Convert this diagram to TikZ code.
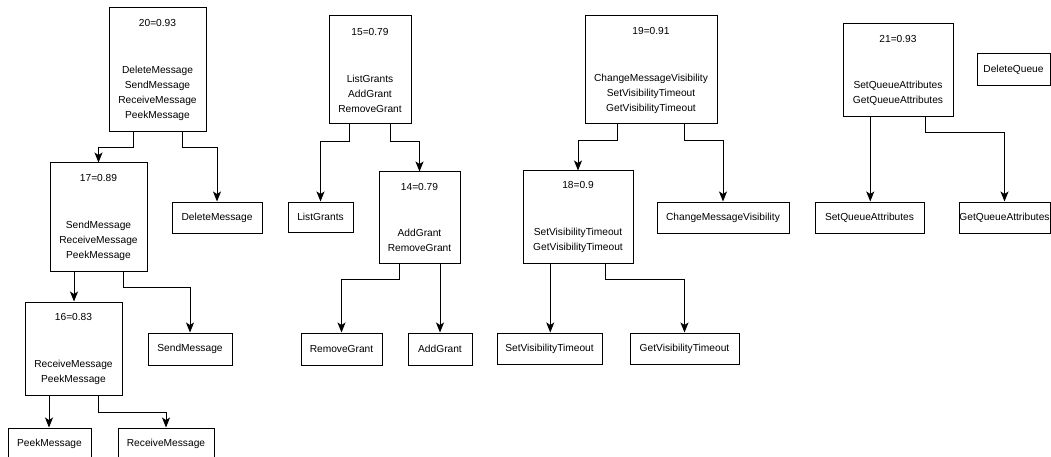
\documentclass[tikz,border=0pt]{standalone}
\usepackage{fontspec}
\setmainfont{Liberation Sans}
\usetikzlibrary{arrows.meta,calc}

\tikzset{
  tbox/.style={draw=black, line width=1pt, rectangle, inner sep=0pt,
    align=center, font=\fontsize{10.2}{15}\selectfont},
  arr/.style={draw=black, line width=1pt,
    -{Stealth[length=10pt,width=8pt,inset=2.5pt]}},
}

\begin{document}
\begin{tikzpicture}[x=1pt,y=-1pt]
\useasboundingbox (0,0) rectangle (1051,457);
\fill[white] (0,0) rectangle (1051,457);

% ---- message operations ----
\node[tbox, minimum width=97pt, minimum height=124pt] (n20) at (157.5,70)
  {20=0.93\\[32pt]DeleteMessage\\SendMessage\\ReceiveMessage\\PeekMessage};
\node[tbox, minimum width=97pt, minimum height=108pt] (n17) at (98.5,217)
  {17=0.89\\[32pt]SendMessage\\ReceiveMessage\\PeekMessage};
\node[tbox, minimum width=97pt, minimum height=93pt] (n16) at (73.5,348.5)
  {16=0.83\\[32pt]ReceiveMessage\\PeekMessage};
\node[tbox, minimum width=90pt, minimum height=31pt] (ldel) at (217,217.5) {DeleteMessage};
\node[tbox, minimum width=84pt, minimum height=32pt] (lsend) at (190,349) {SendMessage};
\node[tbox, minimum width=83pt, minimum height=31pt] (lpeek) at (49.5,443.5) {PeekMessage};
\node[tbox, minimum width=96pt, minimum height=31pt] (lrecv) at (166,443.5) {ReceiveMessage};

% ---- grant operations ----
\node[tbox, minimum width=82pt, minimum height=108pt] (n15) at (370,70)
  {15=0.79\\[32pt]ListGrants\\AddGrant\\RemoveGrant};
\node[tbox, minimum width=81pt, minimum height=91pt] (n14) at (419.5,217.5)
  {14=0.79\\[31pt]AddGrant\\RemoveGrant};
\node[tbox, minimum width=65pt, minimum height=30pt] (llist) at (320.5,217) {ListGrants};
\node[tbox, minimum width=81pt, minimum height=32pt] (lremove) at (341.5,349) {RemoveGrant};
\node[tbox, minimum width=64pt, minimum height=32pt] (ladd) at (440,349) {AddGrant};

% ---- visibility operations ----
\node[tbox, minimum width=132pt, minimum height=108pt] (n19) at (651,70)
  {19=0.91\\[32pt]ChangeMessageVisibility\\SetVisibilityTimeout\\GetVisibilityTimeout};
\node[tbox, minimum width=110pt, minimum height=92pt] (n18) at (578,217)
  {18=0.9\\[32pt]SetVisibilityTimeout\\GetVisibilityTimeout};
\node[tbox, minimum width=132pt, minimum height=31pt] (lcmv) at (723,217.5) {ChangeMessageVisibility};
\node[tbox, minimum width=105pt, minimum height=31pt] (lsvt) at (549.5,348.5) {SetVisibilityTimeout};
\node[tbox, minimum width=109pt, minimum height=31pt] (lgvt) at (684.5,348.5) {GetVisibilityTimeout};

% ---- queue attribute operations ----
\node[tbox, minimum width=110pt, minimum height=93pt] (n21) at (898,70.5)
  {21=0.93\\[31pt]SetQueueAttributes\\GetQueueAttributes};
\node[tbox, minimum width=109pt, minimum height=31pt] (lsqa) at (869.5,217.5) {SetQueueAttributes};
\node[tbox, minimum width=91pt, minimum height=31pt] (lgqa) at (1004.5,217.5) {GetQueueAttributes};
\node[tbox, minimum width=73pt, minimum height=32pt] (ldq) at (1013.5,70) {DeleteQueue};

% exit points on the bottom edge of each cluster box (quarter and three quarters)
\foreach \n in {n20,n17,n16,n15,n14,n19,n18,n21} {
  \coordinate (\n a) at ($(\n.south west)!0.25!(\n.south east)$);
  \coordinate (\n b) at ($(\n.south west)!0.75!(\n.south east)$);
}

% connectors
\draw[arr] (n20a) -- ++(0,15) -| (n17.north);
\draw[arr] (n20b) -- ++(0,15) -| (ldel.north);
\draw[arr] (n17a) -- (n17a |- n16.north);
\draw[arr] (n17b) -- ++(0,16) -| (lsend.north);
\draw[arr] (n16a) -- (n16a |- lpeek.north);
\draw[arr] (n16b) -- ++(0,17) -| (lrecv.north);

\draw[arr] (n15a) -- ++(0,17) -| (llist.north);
\draw[arr] (n15b) -- ++(0,17) -| (n14.north);
\draw[arr] (n14a) -- ++(0,16) -| (lremove.north);
\draw[arr] (n14b) -- (n14b |- ladd.north);

\draw[arr] (n19a) -- ++(0,16) -| (n18.north);
\draw[arr] (n19b) -- ++(0,16) -| (lcmv.north);
\draw[arr] (n18a) -- (n18a |- lsvt.north);
\draw[arr] (n18b) -- ++(0,16) -| (lgvt.north);

\draw[arr] (n21a) -- (n21a |- lsqa.north);
\draw[arr] (n21b) -- ++(0,15) -| (lgqa.north);
\end{tikzpicture}
\end{document}
